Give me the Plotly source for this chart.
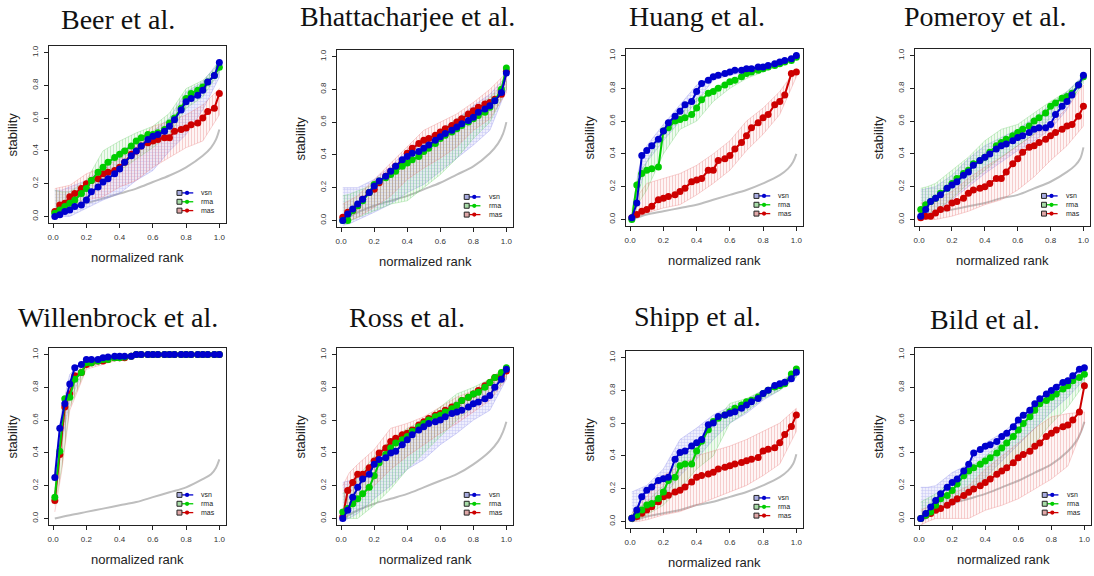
import plotly.graph_objects as go

# ---------------- data ----------------
rank = [0.01, 0.04, 0.07, 0.1, 0.13, 0.17, 0.2, 0.23, 0.27, 0.3, 0.33, 0.37, 0.4, 0.43, 0.47,
        0.5, 0.53, 0.57, 0.6, 0.63, 0.67, 0.7, 0.73, 0.77, 0.8, 0.83, 0.87, 0.9, 0.93, 0.97, 1.0]
band_rank = [0.01, 0.05, 0.1, 0.2, 0.3, 0.4, 0.5, 0.6, 0.7, 0.8, 0.9, 1.0]
gray_rank = [0.01, 0.1, 0.2, 0.3, 0.4, 0.5, 0.6, 0.7, 0.8, 0.9, 0.95, 0.98, 1.0]

titles = ["Beer et al.", "Bhattacharjee et al.", "Huang et al.", "Pomeroy et al.",
          "Willenbrock et al.", "Ross et al.", "Shipp et al.", "Bild et al."]
methods = ["vsn", "rma", "mas"]
tick_vals = [0.0, 0.2, 0.4, 0.6, 0.8, 1.0]
tick_text = ["0.0", "0.2", "0.4", "0.6", "0.8", "1.0"]

# Beer
beer_vsn = [0.00,0.01,0.03,0.04,0.06,0.07,0.10,0.15,0.18,0.21,0.23,0.26,0.29,0.33,0.37,0.40,0.43,0.47,0.49,0.50,0.52,0.55,0.59,0.65,0.70,0.72,0.74,0.77,0.82,0.86,0.94]
beer_rma = [0.02,0.04,0.06,0.08,0.10,0.14,0.17,0.22,0.27,0.30,0.33,0.36,0.38,0.40,0.43,0.46,0.48,0.50,0.50,0.51,0.53,0.57,0.60,0.66,0.72,0.75,0.77,0.79,0.82,0.86,0.91]
beer_mas = [0.03,0.07,0.08,0.12,0.14,0.17,0.20,0.22,0.23,0.26,0.27,0.28,0.30,0.33,0.38,0.40,0.43,0.45,0.46,0.47,0.48,0.48,0.52,0.53,0.54,0.56,0.57,0.60,0.64,0.66,0.75]
beer_vsn_lo = [0.00,0.00,0.00,0.05,0.10,0.14,0.22,0.28,0.40,0.50,0.65,0.85]
beer_vsn_hi = [0.16,0.16,0.18,0.22,0.30,0.40,0.45,0.52,0.60,0.76,0.82,0.95]
beer_rma_lo = [0.00,0.02,0.04,0.12,0.20,0.28,0.35,0.42,0.50,0.66,0.73,0.88]
beer_rma_hi = [0.16,0.15,0.15,0.22,0.40,0.46,0.51,0.55,0.63,0.78,0.83,0.93]
beer_mas_lo = [0.00,0.02,0.05,0.10,0.12,0.18,0.22,0.30,0.36,0.42,0.46,0.62]
beer_mas_hi = [0.17,0.18,0.19,0.26,0.30,0.35,0.45,0.55,0.58,0.62,0.68,0.78]
beer_gray = [0.0,0.05,0.08,0.11,0.14,0.17,0.21,0.25,0.30,0.37,0.42,0.47,0.53]

# Bhattacharjee
bhat_vsn = [0.00,0.04,0.07,0.10,0.13,0.17,0.21,0.24,0.27,0.30,0.33,0.37,0.39,0.41,0.42,0.44,0.46,0.49,0.51,0.53,0.55,0.57,0.59,0.61,0.63,0.66,0.68,0.70,0.73,0.78,0.90]
bhat_rma = [0.00,0.00,0.06,0.09,0.12,0.17,0.22,0.24,0.26,0.28,0.30,0.33,0.35,0.37,0.39,0.42,0.44,0.47,0.50,0.52,0.54,0.56,0.58,0.60,0.62,0.64,0.66,0.69,0.73,0.80,0.93]
bhat_mas = [0.02,0.05,0.06,0.09,0.13,0.17,0.19,0.23,0.27,0.30,0.33,0.36,0.41,0.44,0.47,0.49,0.50,0.52,0.54,0.56,0.58,0.60,0.62,0.65,0.67,0.69,0.71,0.72,0.74,0.77,0.91]
bhat_vsn_lo = [-0.03,-0.02,0.00,0.05,0.10,0.17,0.22,0.30,0.38,0.46,0.55,0.80]
bhat_vsn_hi = [0.20,0.20,0.20,0.25,0.33,0.43,0.50,0.55,0.62,0.70,0.77,0.88]
bhat_rma_lo = [-0.02,0.00,0.02,0.06,0.10,0.12,0.20,0.28,0.38,0.50,0.60,0.80]
bhat_rma_hi = [0.15,0.16,0.18,0.22,0.30,0.38,0.46,0.55,0.62,0.68,0.75,0.85]
bhat_mas_lo = [0.00,0.00,0.02,0.08,0.15,0.25,0.32,0.38,0.45,0.55,0.62,0.78]
bhat_mas_hi = [0.10,0.12,0.15,0.25,0.35,0.45,0.55,0.60,0.65,0.72,0.80,0.90]
bhat_gray = [0.0,0.05,0.09,0.12,0.15,0.19,0.23,0.28,0.33,0.41,0.47,0.53,0.60]

# Huang
huang_vsn = [0.01,0.10,0.39,0.42,0.45,0.49,0.54,0.59,0.63,0.66,0.70,0.72,0.78,0.83,0.85,0.87,0.88,0.89,0.90,0.91,0.91,0.92,0.92,0.93,0.93,0.94,0.95,0.96,0.97,0.98,1.00]
huang_rma = [0.00,0.21,0.28,0.30,0.31,0.32,0.54,0.56,0.60,0.61,0.62,0.64,0.68,0.73,0.77,0.78,0.80,0.82,0.84,0.85,0.87,0.89,0.90,0.91,0.92,0.93,0.94,0.95,0.96,0.97,0.99]
huang_mas = [0.01,0.03,0.05,0.06,0.08,0.12,0.13,0.14,0.15,0.17,0.19,0.23,0.24,0.25,0.30,0.30,0.36,0.37,0.39,0.43,0.47,0.51,0.56,0.59,0.62,0.64,0.70,0.72,0.76,0.89,0.90]
huang_vsn_lo = [0.00,0.15,0.35,0.48,0.60,0.72,0.85,0.88,0.90,0.92,0.95,0.99]
huang_vsn_hi = [0.02,0.30,0.45,0.58,0.70,0.82,0.88,0.91,0.93,0.94,0.97,1.00]
huang_rma_lo = [0.00,0.10,0.18,0.40,0.55,0.60,0.72,0.80,0.86,0.90,0.94,0.98]
huang_rma_hi = [0.05,0.28,0.35,0.55,0.64,0.74,0.80,0.85,0.90,0.92,0.95,0.99]
huang_mas_lo = [0.00,0.02,0.04,0.07,0.09,0.15,0.22,0.30,0.42,0.52,0.64,0.87]
huang_mas_hi = [0.03,0.15,0.22,0.25,0.28,0.33,0.40,0.48,0.60,0.68,0.78,0.92]
huang_gray = [0.0,0.03,0.05,0.07,0.09,0.12,0.15,0.18,0.22,0.27,0.31,0.35,0.40]

# Pomeroy
pom_vsn = [0.02,0.06,0.11,0.13,0.15,0.19,0.21,0.23,0.27,0.29,0.33,0.36,0.38,0.40,0.43,0.45,0.46,0.48,0.50,0.51,0.53,0.55,0.56,0.56,0.58,0.64,0.69,0.72,0.76,0.82,0.88]
pom_rma = [0.06,0.09,0.11,0.13,0.16,0.19,0.22,0.25,0.28,0.30,0.34,0.36,0.38,0.41,0.45,0.47,0.49,0.51,0.53,0.55,0.57,0.60,0.62,0.65,0.69,0.71,0.74,0.75,0.77,0.82,0.87]
pom_mas = [0.01,0.02,0.02,0.04,0.06,0.07,0.10,0.11,0.13,0.16,0.18,0.19,0.20,0.22,0.25,0.25,0.29,0.34,0.37,0.41,0.44,0.45,0.47,0.49,0.51,0.53,0.55,0.57,0.58,0.63,0.69]
pom_vsn_lo = [0.00,0.02,0.05,0.12,0.20,0.28,0.35,0.42,0.48,0.55,0.67,0.85]
pom_vsn_hi = [0.18,0.19,0.20,0.27,0.37,0.45,0.50,0.55,0.62,0.70,0.78,0.88]
pom_rma_lo = [0.00,0.02,0.05,0.13,0.22,0.30,0.38,0.45,0.52,0.62,0.70,0.83]
pom_rma_hi = [0.19,0.20,0.22,0.30,0.38,0.48,0.55,0.58,0.65,0.72,0.78,0.87]
pom_mas_lo = [0.00,0.00,0.00,0.02,0.05,0.09,0.12,0.18,0.26,0.36,0.45,0.57]
pom_mas_hi = [0.10,0.11,0.12,0.17,0.25,0.32,0.38,0.45,0.52,0.58,0.68,0.82]
pom_gray = [0.0,0.04,0.06,0.08,0.10,0.13,0.15,0.19,0.23,0.29,0.33,0.37,0.44]

# Willenbrock
wil_vsn = [0.25,0.55,0.70,0.82,0.92,0.94,0.97,0.97,0.97,0.98,0.985,0.99,0.99,0.99,0.99,1.0,1.0,1.0,1.0,1.0,1.0,1.0,1.0,1.0,1.0,1.0,1.0,1.0,1.0,1.0,1.0]
wil_rma = [0.13,0.41,0.73,0.74,0.85,0.89,0.95,0.95,0.96,0.97,0.97,0.98,0.98,0.985,0.99,1.0,1.0,1.0,1.0,1.0,1.0,1.0,1.0,1.0,1.0,1.0,1.0,1.0,1.0,1.0,1.0]
wil_mas = [0.11,0.39,0.68,0.76,0.87,0.89,0.94,0.95,0.96,0.96,0.97,0.98,0.98,0.98,0.99,1.0,1.0,1.0,1.0,1.0,1.0,1.0,1.0,1.0,1.0,1.0,1.0,1.0,1.0,1.0,1.0]
wil_vsn_lo = [0.15,0.45,0.72,0.94,0.96,0.98,0.99,0.99,0.99,0.99,0.99,0.99]
wil_vsn_hi = [0.30,0.65,0.88,0.98,0.99,1.00,1.00,1.00,1.00,1.00,1.00,1.00]
wil_rma_lo = [0.08,0.30,0.68,0.92,0.95,0.97,0.99,0.99,0.99,0.99,0.99,0.99]
wil_rma_hi = [0.18,0.50,0.80,0.97,0.98,0.99,1.00,1.00,1.00,1.00,1.00,1.00]
wil_mas_lo = [0.04,0.28,0.66,0.91,0.94,0.97,0.99,0.99,0.99,0.99,0.99,0.99]
wil_mas_hi = [0.16,0.48,0.82,0.97,0.98,0.99,1.00,1.00,1.00,1.00,1.00,1.00]
wil_gray = [0.0,0.02,0.04,0.06,0.08,0.10,0.13,0.16,0.19,0.24,0.27,0.31,0.36]

# Ross
ross_vsn = [0.00,0.05,0.13,0.19,0.24,0.27,0.33,0.36,0.37,0.40,0.41,0.45,0.48,0.51,0.54,0.56,0.58,0.59,0.60,0.62,0.64,0.65,0.66,0.68,0.70,0.71,0.73,0.75,0.80,0.85,0.91]
ross_rma = [0.04,0.06,0.09,0.12,0.15,0.19,0.26,0.34,0.39,0.43,0.46,0.48,0.50,0.53,0.56,0.58,0.60,0.62,0.63,0.65,0.67,0.69,0.72,0.74,0.76,0.77,0.80,0.83,0.86,0.89,0.92]
ross_mas = [0.01,0.17,0.22,0.27,0.27,0.31,0.35,0.40,0.43,0.47,0.49,0.51,0.52,0.54,0.57,0.59,0.61,0.63,0.64,0.66,0.68,0.69,0.72,0.74,0.76,0.78,0.81,0.83,0.86,0.87,0.90]
ross_vsn_lo = [-0.02,0.00,0.03,0.12,0.20,0.30,0.36,0.45,0.52,0.60,0.66,0.85]
ross_vsn_hi = [0.22,0.23,0.25,0.35,0.45,0.53,0.60,0.65,0.72,0.76,0.82,0.92]
ross_rma_lo = [0.00,0.00,0.00,0.08,0.18,0.30,0.40,0.50,0.60,0.68,0.74,0.86]
ross_rma_hi = [0.15,0.20,0.25,0.38,0.48,0.55,0.60,0.68,0.76,0.80,0.85,0.93]
ross_mas_lo = [0.00,0.05,0.10,0.20,0.30,0.38,0.45,0.52,0.58,0.65,0.72,0.85]
ross_mas_hi = [0.20,0.28,0.33,0.42,0.55,0.58,0.62,0.68,0.74,0.78,0.85,0.93]
ross_gray = [0.0,0.05,0.09,0.12,0.15,0.19,0.23,0.27,0.33,0.41,0.47,0.53,0.59]

# Shipp
shipp_vsn = [0.02,0.07,0.15,0.19,0.21,0.25,0.26,0.27,0.38,0.42,0.43,0.46,0.48,0.50,0.59,0.60,0.64,0.65,0.66,0.67,0.69,0.71,0.73,0.75,0.78,0.80,0.83,0.84,0.85,0.87,0.91]
shipp_rma = [0.02,0.04,0.07,0.10,0.11,0.14,0.18,0.25,0.27,0.34,0.35,0.35,0.43,0.49,0.56,0.61,0.63,0.65,0.67,0.69,0.71,0.73,0.74,0.76,0.78,0.80,0.82,0.83,0.84,0.90,0.93]
shipp_mas = [0.02,0.03,0.05,0.07,0.09,0.12,0.15,0.16,0.18,0.19,0.21,0.24,0.27,0.28,0.29,0.30,0.32,0.33,0.34,0.35,0.36,0.37,0.38,0.39,0.43,0.44,0.45,0.48,0.53,0.58,0.65]
shipp_vsn_lo = [0.00,0.03,0.08,0.15,0.28,0.38,0.50,0.60,0.66,0.74,0.80,0.88]
shipp_vsn_hi = [0.18,0.20,0.22,0.32,0.50,0.57,0.65,0.70,0.74,0.80,0.85,0.92]
shipp_rma_lo = [0.00,0.02,0.04,0.10,0.20,0.32,0.40,0.60,0.67,0.75,0.80,0.88]
shipp_rma_hi = [0.05,0.08,0.12,0.22,0.40,0.45,0.60,0.72,0.75,0.80,0.84,0.92]
shipp_mas_lo = [0.00,0.00,0.01,0.04,0.06,0.10,0.14,0.18,0.22,0.28,0.35,0.55]
shipp_mas_hi = [0.05,0.10,0.15,0.28,0.34,0.40,0.43,0.46,0.50,0.55,0.60,0.69]
shipp_gray = [0.0,0.03,0.05,0.07,0.10,0.12,0.15,0.18,0.22,0.27,0.31,0.35,0.41]

# Bild
bild_vsn = [0.00,0.03,0.07,0.11,0.15,0.19,0.22,0.24,0.29,0.33,0.40,0.42,0.44,0.45,0.47,0.50,0.52,0.56,0.60,0.63,0.66,0.70,0.73,0.76,0.78,0.80,0.83,0.84,0.87,0.91,0.92]
bild_rma = [0.00,0.02,0.04,0.08,0.12,0.14,0.17,0.21,0.26,0.29,0.31,0.33,0.35,0.37,0.40,0.43,0.46,0.50,0.54,0.58,0.62,0.66,0.70,0.72,0.74,0.76,0.79,0.81,0.84,0.86,0.88]
bild_mas = [0.00,0.02,0.03,0.05,0.06,0.08,0.10,0.12,0.14,0.16,0.18,0.20,0.22,0.24,0.27,0.29,0.31,0.34,0.37,0.39,0.41,0.44,0.46,0.50,0.52,0.54,0.56,0.57,0.60,0.65,0.81]
bild_vsn_lo = [-0.02,0.00,0.05,0.08,0.15,0.25,0.35,0.45,0.55,0.65,0.74,0.85]
bild_vsn_hi = [0.19,0.19,0.20,0.28,0.33,0.46,0.52,0.60,0.70,0.80,0.86,0.92]
bild_rma_lo = [0.00,0.02,0.04,0.10,0.18,0.24,0.30,0.38,0.46,0.58,0.68,0.82]
bild_rma_hi = [0.10,0.12,0.15,0.23,0.30,0.38,0.46,0.55,0.65,0.75,0.80,0.88]
bild_mas_lo = [-0.04,-0.02,0.00,0.00,0.00,0.05,0.08,0.12,0.18,0.24,0.32,0.58]
bild_mas_hi = [0.05,0.07,0.10,0.15,0.20,0.30,0.38,0.46,0.55,0.62,0.64,0.65]
bild_gray = [0.0,0.05,0.09,0.12,0.15,0.19,0.23,0.28,0.33,0.41,0.47,0.53,0.59]

panel_data = [
    dict(vsn=beer_vsn, rma=beer_rma, mas=beer_mas, vsn_lo=beer_vsn_lo, vsn_hi=beer_vsn_hi,
         rma_lo=beer_rma_lo, rma_hi=beer_rma_hi, mas_lo=beer_mas_lo, mas_hi=beer_mas_hi, gray=beer_gray),
    dict(vsn=bhat_vsn, rma=bhat_rma, mas=bhat_mas, vsn_lo=bhat_vsn_lo, vsn_hi=bhat_vsn_hi,
         rma_lo=bhat_rma_lo, rma_hi=bhat_rma_hi, mas_lo=bhat_mas_lo, mas_hi=bhat_mas_hi, gray=bhat_gray),
    dict(vsn=huang_vsn, rma=huang_rma, mas=huang_mas, vsn_lo=huang_vsn_lo, vsn_hi=huang_vsn_hi,
         rma_lo=huang_rma_lo, rma_hi=huang_rma_hi, mas_lo=huang_mas_lo, mas_hi=huang_mas_hi, gray=huang_gray),
    dict(vsn=pom_vsn, rma=pom_rma, mas=pom_mas, vsn_lo=pom_vsn_lo, vsn_hi=pom_vsn_hi,
         rma_lo=pom_rma_lo, rma_hi=pom_rma_hi, mas_lo=pom_mas_lo, mas_hi=pom_mas_hi, gray=pom_gray),
    dict(vsn=wil_vsn, rma=wil_rma, mas=wil_mas, vsn_lo=wil_vsn_lo, vsn_hi=wil_vsn_hi,
         rma_lo=wil_rma_lo, rma_hi=wil_rma_hi, mas_lo=wil_mas_lo, mas_hi=wil_mas_hi, gray=wil_gray),
    dict(vsn=ross_vsn, rma=ross_rma, mas=ross_mas, vsn_lo=ross_vsn_lo, vsn_hi=ross_vsn_hi,
         rma_lo=ross_rma_lo, rma_hi=ross_rma_hi, mas_lo=ross_mas_lo, mas_hi=ross_mas_hi, gray=ross_gray),
    dict(vsn=shipp_vsn, rma=shipp_rma, mas=shipp_mas, vsn_lo=shipp_vsn_lo, vsn_hi=shipp_vsn_hi,
         rma_lo=shipp_rma_lo, rma_hi=shipp_rma_hi, mas_lo=shipp_mas_lo, mas_hi=shipp_mas_hi, gray=shipp_gray),
    dict(vsn=bild_vsn, rma=bild_rma, mas=bild_mas, vsn_lo=bild_vsn_lo, vsn_hi=bild_vsn_hi,
         rma_lo=bild_rma_lo, rma_hi=bild_rma_hi, mas_lo=bild_mas_lo, mas_hi=bild_mas_hi, gray=bild_gray),
]

# ---------------- layout / style ----------------
W, H = 1094, 576
# plot boxes in window pixels: (left, right, top, bottom)
boxes = [(49, 226, 46, 223), (337, 513, 50, 227), (626, 803, 49, 226), (915, 1090, 49, 226),
         (49, 226, 348, 525), (337, 513, 348, 525), (626, 803, 351, 528), (915, 1091, 348, 525)]
title_pos = [(118, 19), (407, 17), (697, 17), (985, 17),
             (118, 317), (407, 317), (697, 316), (985, 319)]


def px(x):
    return x / W


def py(y):
    return 1 - y / H


line_col = {"vsn": "#0000CD", "rma": "#00CD00", "mas": "#CD0000"}
hatch_shape = {"vsn": "+", "rma": "|", "mas": "|"}
hatch_col = {"vsn": "rgba(110,110,230,0.55)", "rma": "rgba(80,200,80,0.55)", "mas": "rgba(225,100,100,0.55)"}
hatch_bg = {"vsn": "rgba(140,140,235,0.14)", "rma": "rgba(110,210,110,0.10)", "mas": "rgba(235,130,130,0.08)"}
edge_col = {"vsn": "rgba(120,120,230,0.5)", "rma": "rgba(90,200,90,0.5)", "mas": "rgba(230,110,110,0.5)"}
legend_fill = {"vsn": "#A8ACE0", "rma": "#A8DCA8", "mas": "#E0A8A8"}

FONT = "Liberation Sans, Arial, sans-serif"

fig = go.Figure()
layout = dict(width=W, height=H, margin=dict(l=0, r=0, t=0, b=0), autosize=False,
              paper_bgcolor="white", plot_bgcolor="white", showlegend=False)
shapes = []
annotations = []

for i, (d, box, title, tp) in enumerate(zip(panel_data, boxes, titles, title_pos)):
    n = i + 1
    xs = "x" if n == 1 else f"x{n}"
    ys = "y" if n == 1 else f"y{n}"
    xkey = "xaxis" if n == 1 else f"xaxis{n}"
    ykey = "yaxis" if n == 1 else f"yaxis{n}"
    L, R, T, B = box
    common = dict(showgrid=False, zeroline=False, showline=True, mirror=True, linecolor="#222",
                  linewidth=1, ticks="outside", ticklen=4, tickwidth=1, tickcolor="#222",
                  tickvals=tick_vals, ticktext=tick_text, fixedrange=True,
                  tickfont=dict(family=FONT, size=8, color="#333"))
    layout[xkey] = dict(common, domain=[px(L), px(R)], range=[-0.025, 1.04], anchor=ys,
                        ticklabelstandoff=2)
    layout[ykey] = dict(common, domain=[py(B), py(T)], range=[-0.04, 1.04], anchor=xs,
                        tickangle=-90, ticklabelstandoff=3)

    # gray reference curve
    fig.add_trace(go.Scatter(x=gray_rank, y=d["gray"], mode="lines", xaxis=xs, yaxis=ys,
                             line=dict(color="#BEBEBE", width=2, shape="spline"), hoverinfo="skip"))
    # hatched bands
    for m in methods:
        lo, hi = d[m + "_lo"], d[m + "_hi"]
        fig.add_trace(go.Scatter(x=band_rank + band_rank[::-1], y=hi + lo[::-1], mode="lines",
                                 xaxis=xs, yaxis=ys, fill="toself", fillcolor=hatch_bg[m],
                                 fillpattern=dict(shape=hatch_shape[m], fgcolor=hatch_col[m],
                                                  bgcolor=hatch_bg[m], size=3, solidity=0.35),
                                 line=dict(color=edge_col[m], width=0.6), hoverinfo="skip"))
    # series lines
    for m in ["mas", "rma", "vsn"]:
        fig.add_trace(go.Scatter(x=rank, y=d[m], mode="lines+markers", xaxis=xs, yaxis=ys, name=m,
                                 line=dict(color=line_col[m], width=2),
                                 marker=dict(color=line_col[m], size=7, line=dict(width=0))))

    # panel title
    annotations.append(dict(text=title, x=px(tp[0]), y=py(tp[1]), xref="paper", yref="paper",
                            xanchor="center", yanchor="middle", showarrow=False,
                            font=dict(family="Liberation Serif, Times New Roman, serif", size=28, color="#111")))
    # axis titles
    annotations.append(dict(text="stability", x=px(L - 37), y=py((T + B) / 2), xref="paper",
                            yref="paper", textangle=-90, showarrow=False, xanchor="center", yanchor="middle",
                            font=dict(family=FONT, size=13, color="#222")))
    annotations.append(dict(text="normalized rank", x=px((L + R) / 2), y=py(B + 34), xref="paper",
                            yref="paper", showarrow=False, xanchor="center", yanchor="middle",
                            font=dict(family=FONT, size=13, color="#222")))

    # in-plot key
    xr, yr = f"{xs} domain", f"{ys} domain"
    for k, m in enumerate(methods):
        yk = 0.17 - 0.05 * k
        shapes.append(dict(type="line", xref=xr, yref=yr, x0=0.751, x1=0.815, y0=yk, y1=yk,
                           line=dict(color=line_col[m], width=1.3)))
        shapes.append(dict(type="circle", xref=xr, yref=yr, x0=0.768, x1=0.792, y0=yk - 0.012, y1=yk + 0.012,
                           fillcolor=line_col[m], line=dict(width=0)))
        shapes.append(dict(type="rect", xref=xr, yref=yr, x0=0.723, x1=0.751, y0=yk - 0.014, y1=yk + 0.014,
                           fillcolor=legend_fill[m], line=dict(color="#222", width=1)))
        annotations.append(dict(text=m, x=0.85, y=yk, xref=xr, yref=yr, xanchor="left", yanchor="middle",
                                showarrow=False, font=dict(family=FONT, size=7, color="#222")))

layout["shapes"] = shapes
layout["annotations"] = annotations
fig.update_layout(**layout)
fig.write_html("out.html", config={"displayModeBar": False, "staticPlot": True},
               post_script="document.documentElement.style.overflow='hidden';"
                           "document.body.style.margin='0';document.body.style.overflow='hidden';")
